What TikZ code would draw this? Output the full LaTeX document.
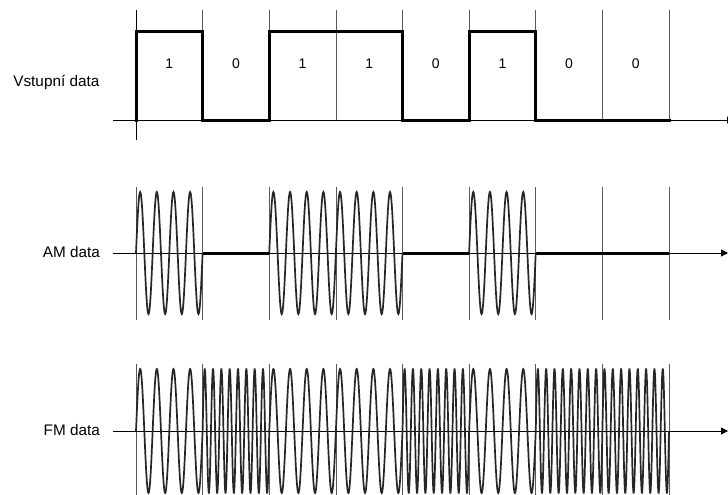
\documentclass[tikz,border=0pt]{standalone}
\usepackage{fontspec}
\setmainfont{Liberation Sans}
\usetikzlibrary{arrows.meta}
\begin{document}
\begin{tikzpicture}[x=1pt,y=-1pt,
  gridline/.style={line width=0.7pt, black!65},
  sig/.style={line width=3pt, line join=miter, line cap=rect},
  wave/.style={line width=1.7pt, black!85},
  zeroline/.style={line width=3pt},
  axisline/.style={line width=1pt, -{Triangle[length=7pt,width=7pt]}},
  lbl/.style={font=\fontsize{15.3}{17}\selectfont, inner sep=0pt},
  bitlbl/.style={font=\fontsize{14}{16}\selectfont, inner sep=0pt}]
\useasboundingbox (0,0) rectangle (728,495);
\fill[white] (0,0) rectangle (728,495);
\def\W{66.625}
% ---------- top panel ----------
\foreach \i in {1,...,8} {
  \pgfmathsetmacro\xx{136+\i*\W}
  \draw[gridline] (\xx,10) -- (\xx,120);
}
\draw[gridline, black] (136,10) -- (136,140);
\draw[axisline] (113,120) -- (734,120);
\draw[sig] (136,120) -- (136,32) -- (202.6,32) -- (202.6,120) -- (269.25,120)
  -- (269.25,32) -- (402.5,32) -- (402.5,120) -- (469.1,120) -- (469.1,32)
  -- (535.75,32) -- (535.75,120) -- (669,120);
\foreach \b [count=\i from 0] in {1,0,1,1,0,1,0,0} {
  \pgfmathsetmacro\xx{136+(\i+0.5)*\W}
  \node[bitlbl, anchor=base] (bit\i) at (\xx,68.5) {\b};
}
\node[lbl, anchor=base east] (lin) at (99.5,86) {Vstupní data};
% ---------- AM panel ----------
\foreach \i in {0,...,8} {
  \pgfmathsetmacro\xx{136+\i*\W}
  \draw[gridline] (\xx,187) -- (\xx,320);
}
\draw[axisline] (113,253) -- (728,253);
\draw[zeroline] (202.6,253) -- (269.25,253);
\draw[zeroline] (402.5,253) -- (469.1,253);
\draw[zeroline] (535.75,253) -- (669,253);
\draw[wave] plot[domain=0:66.625, samples=161] ({136+\x}, {253-61*sin(21.6135*\x)});
\draw[wave] plot[domain=0:133.25, samples=321] ({269.25+\x}, {253-61*sin(21.6135*\x)});
\draw[wave] plot[domain=0:66.625, samples=161] ({469.1+\x}, {253-61*sin(21.6135*\x)});
\node[lbl, anchor=base east] (lam) at (100,257) {AM data};
% ---------- FM panel ----------
\foreach \i in {0,...,8} {
  \pgfmathsetmacro\xx{136+\i*\W}
  \draw[gridline] (\xx,364) -- (\xx,495);
}
\draw[axisline] (113,431) -- (728,431);
\foreach \c [count=\i from 0] in {4,8,4,4,8,4,8,8} {
  \pgfmathsetmacro\xa{136+\i*\W}
  \pgfmathsetmacro\k{360*\c/66.625}
  \draw[wave] plot[domain=0:66.625, samples=241] ({\xa+\x}, {431-62*sin(\k*\x)});
}
\node[lbl, anchor=base east] (lfm) at (100,435) {FM data};
\end{tikzpicture}
\end{document}
